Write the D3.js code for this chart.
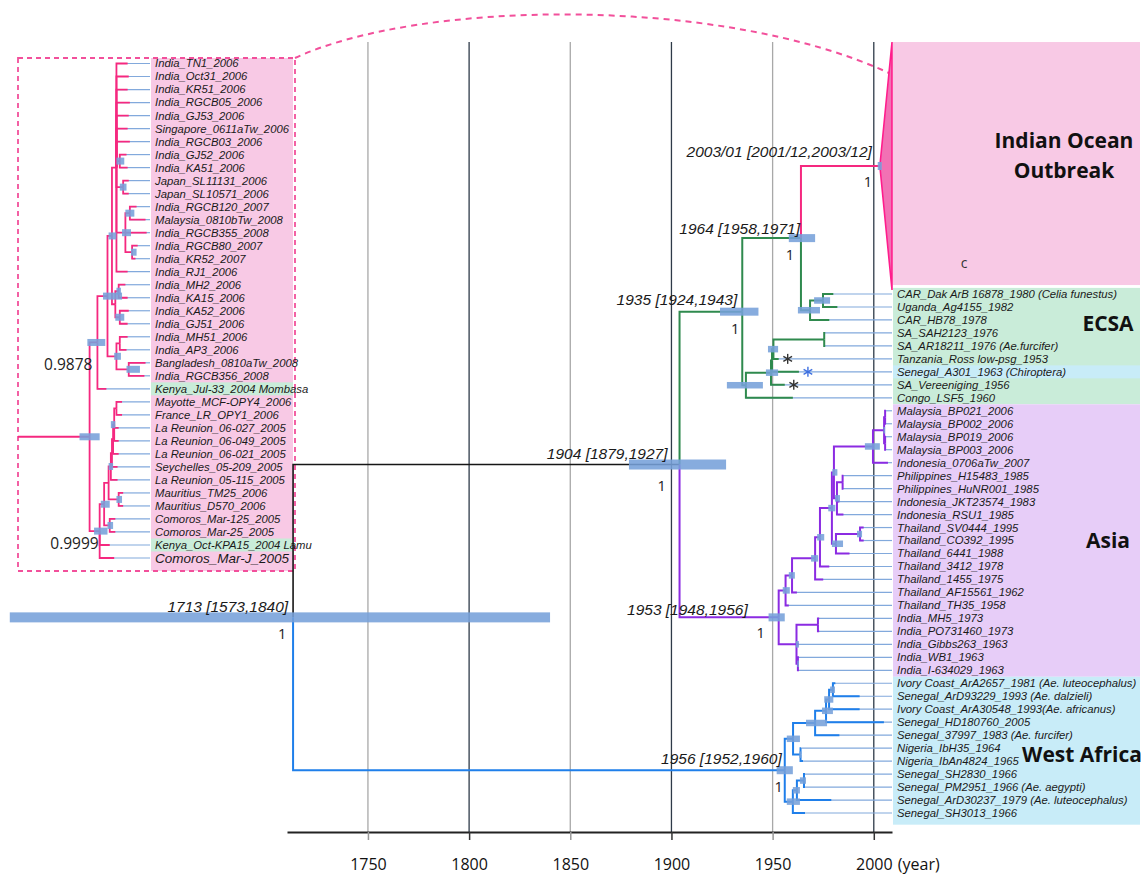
<!DOCTYPE html>
<html><head><meta charset="utf-8">
<script src="https://cdn.jsdelivr.net/npm/d3@7"></script>
<style>
body{margin:0;background:#fff;}
svg{display:block;}
</style></head><body>
<svg id="chart" width="1142" height="875"></svg>
<script>
// ================= DATA =================
const axisYears = [1750, 1800, 1850, 1900, 1950, 2000];
const axisUnit = "(year)";

// main tree internal nodes: [id, parent, year, clade]
const mainNodes = [
  ["root", null, 1713, "stem"],
  ["n1904", "root", 1904, "stem"],
  ["n1935", "n1904", 1935, "ECSA"],
  ["n1964", "n1935", 1964, "ECSA"],
  ["iol", "n1964", 2003.0, "IOL"],
  ["c1", "n1964", 1968.5, "ECSA"],
  ["c2", "c1", 1974.9, "ECSA"],
  ["e1", "n1935", 1936.8, "ECSA"],
  ["e2", "e1", 1949.2, "ECSA"],
  ["e3", "e2", 1949.7, "ECSA"],
  ["e4", "e3", 1950.4, "ECSA"],
  ["sa", "e4", 1975.5, "ECSA"],
  ["n1953", "n1904", 1953, "Asia"],
  ["at", "n1953", 1956.4, "Asia"],
  ["at2", "at", 1959.6, "Asia"],
  ["at3", "at2", 1971, "Asia"],
  ["at4", "at3", 1973.4, "Asia"],
  ["s2", "at4", 1979.3, "Asia"],
  ["s1", "s2", 1980.3, "Asia"],
  ["sea", "s1", 1999.6, "Asia"],
  ["mal", "sea", 2005.1, "Asia"],
  ["mp1", "mal", 2005.6, "Asia"],
  ["mp2", "mal", 2005.6, "Asia"],
  ["pij", "s1", 1981.8, "Asia"],
  ["pi", "pij", 1984.6, "Asia"],
  ["tg", "s2", 1981.3, "Asia"],
  ["th95", "tg", 1993.2, "Asia"],
  ["ai", "n1953", 1961.8, "Asia"],
  ["mh", "ai", 1972.4, "Asia"],
  ["ai3", "ai", 1962.5, "Asia"],
  ["n1956", "root", 1956, "WA"],
  ["w1", "n1956", 1960.1, "WA"],
  ["w3", "w1", 1971, "WA"],
  ["w4", "w3", 1976.4, "WA"],
  ["w5", "w4", 1977.9, "WA"],
  ["w6", "w5", 1979.8, "WA"],
  ["ng", "w1", 1963.8, "WA"],
  ["w2", "n1956", 1960, "WA"],
  ["w7", "w2", 1962, "WA"],
  ["w8", "w7", 1965.5, "WA"]
];

// main tree leaves, top to bottom: [label, parent, tip year, mark]
const mainLeaves = [
  ["CAR_Dak ArB 16878_1980 (Celia funestus)", "c2", 1980],
  ["Uganda_Ag4155_1982", "c2", 1982],
  ["CAR_HB78_1978", "c1", 1978],
  ["SA_SAH2123_1976", "sa", 1976],
  ["SA_AR18211_1976 (Ae.furcifer)", "sa", 1976],
  ["Tanzania_Ross low-psg_1953", "e4", 1953, "star"],
  ["Senegal_A301_1963 (Chiroptera)", "e3", 1963, "starBlue"],
  ["SA_Vereeniging_1956", "e2", 1956, "star"],
  ["Congo_LSF5_1960", "e1", 1960],
  ["Malaysia_BP021_2006", "mp1", 2006],
  ["Malaysia_BP002_2006", "mp1", 2006],
  ["Malaysia_BP019_2006", "mp2", 2006],
  ["Malaysia_BP003_2006", "mp2", 2006],
  ["Indonesia_0706aTw_2007", "sea", 2007],
  ["Philippines_H15483_1985", "pi", 1985],
  ["Philippines_HuNR001_1985", "pi", 1985],
  ["Indonesia_JKT23574_1983", "pij", 1983],
  ["Indonesia_RSU1_1985", "pij", 1985],
  ["Thailand_SV0444_1995", "th95", 1995],
  ["Thailand_CO392_1995", "th95", 1995],
  ["Thailand_6441_1988", "tg", 1988],
  ["Thailand_3412_1978", "at4", 1978],
  ["Thailand_1455_1975", "at3", 1975],
  ["Thailand_AF15561_1962", "at2", 1962],
  ["Thailand_TH35_1958", "at", 1958],
  ["India_MH5_1973", "mh", 1973],
  ["India_PO731460_1973", "mh", 1973],
  ["India_Gibbs263_1963", "ai", 1963],
  ["India_WB1_1963", "ai3", 1963],
  ["India_I-634029_1963", "ai3", 1963],
  ["Ivory Coast_ArA2657_1981 (Ae. luteocephalus)", "w6", 1981],
  ["Senegal_ArD93229_1993 (Ae. dalzieli)", "w6", 1993],
  ["Ivory Coast_ArA30548_1993(Ae. africanus)", "w5", 1993],
  ["Senegal_HD180760_2005", "w4", 2005],
  ["Senegal_37997_1983 (Ae. furcifer)", "w3", 1983],
  ["Nigeria_IbH35_1964", "ng", 1964],
  ["Nigeria_IbAn4824_1965", "ng", 1965],
  ["Senegal_SH2830_1966", "w8", 1966],
  ["Senegal_PM2951_1966 (Ae. aegypti)", "w8", 1966],
  ["Senegal_ArD30237_1979 (Ae. luteocephalus)", "w7", 1979],
  ["Senegal_SH3013_1966", "w2", 1966]
];

// collapsed Indian Ocean clade extent, in leaf-row units
const iolRows = [-19.42, -0.31];

// 95% HPD bars of node ages: [node, low, high]
const mainHPD = [
  ["root", 1573, 1840], ["n1904", 1879, 1927], ["n1935", 1924, 1943],
  ["n1964", 1958, 1971], ["iol", 2001.95, 2003.95], ["n1953", 1948, 1956],
  ["n1956", 1952, 1960], ["c1", 1962.5, 1973.4], ["c2", 1970.5, 1978.4],
  ["e1", 1927.4, 1945.2], ["e2", 1946.7, 1952.7], ["e4", 1947.7, 1952.7],
  ["at", 1955, 1958.5], ["at2", 1958, 1961], ["at3", 1969, 1972.5],
  ["at4", 1972, 1975.5], ["s2", 1977.5, 1981], ["s1", 1979.5, 1982],
  ["tg", 1979.3, 1984.8], ["th95", 1991.7, 1994.2], ["sea", 1995.6, 2003],
  ["pij", 1980.8, 1983.3], ["mal", 2004.8, 2005.6], ["ai", 1961.5, 1963],
  ["ai3", 1962.2, 1963], ["w1", 1957, 1963.5], ["w3", 1966.5, 1976.9],
  ["w4", 1974.4, 1979.8], ["w5", 1975.5, 1980], ["w6", 1978.4, 1980.8],
  ["w2", 1957, 1963.5], ["w7", 1960, 1963.5], ["w8", 1963.5, 1966.5],
  ["ng", 1963.2, 1964.2]
];

// node annotations: [node, date text, posterior]
const mainAnnot = [
  ["root", "1713 [1573,1840]", "1"],
  ["n1904", "1904 [1879,1927]", "1"],
  ["n1935", "1935 [1924,1943]", "1"],
  ["n1964", "1964 [1958,1971]", "1"],
  ["iol", "2003/01 [2001/12,2003/12]", "1"],
  ["n1953", "1953 [1948,1956]", "1"],
  ["n1956", "1956 [1952,1960]", "1"]
];

// clade groups: [key, title lines, first row, last row]
const groups = [
  ["IOL", ["Indian Ocean", "Outbreak"], -19.42, -0.69],
  ["ECSA", ["ECSA"], -0.47, 8.5],
  ["Asia", ["Asia"], 8.5, 29.5],
  ["WA", ["West Africa"], 29.5, 40.9]
];
const highlightRows = [[6, "WA"]];   // Senegal_A301 shaded as West African

// ---- inset (expanded Indian Ocean Outbreak clade) ----
const insetNodes = [
  ["iroot", null, 2003.0],
  ["A", "iroot", 2003.7], ["A2", "A", 2004.6], ["A3", "A2", 2005.0],
  ["I0", "A3", 2005.4], ["gk", "I0", 2005.7], ["jp", "I0", 2006.0],
  ["rg", "I0", 2006.2], ["rm", "rg", 2006.6], ["rk", "rg", 2006.8],
  ["MKg", "A3", 2005.3], ["mk", "MKg", 2005.6], ["kg", "MKg", 2005.7],
  ["I1", "A2", 2005.4], ["ma", "I1", 2005.7], ["bg", "I1", 2006.5],
  ["B", "iroot", 2003.9], ["B3", "B", 2004.3], ["cm", "B3", 2004.8],
  ["B4", "B3", 2004.7], ["mau", "B4", 2005.6], ["R", "B4", 2004.9],
  ["R2", "R", 2005.0], ["R3", "R2", 2005.1], ["R4", "R3", 2005.2],
  ["mf", "R4", 2005.4]
];
const insetStemYear = 1996.6;
const insetLeaves = [
  ["India_TN1_2006", "I0", 2006.4],
  ["India_Oct31_2006", "I0", 2006.5],
  ["India_KR51_2006", "I0", 2006.4],
  ["India_RGCB05_2006", "I0", 2006.6],
  ["India_GJ53_2006", "I0", 2006.5],
  ["Singapore_0611aTw_2006", "I0", 2006.4],
  ["India_RGCB03_2006", "I0", 2006.6],
  ["India_GJ52_2006", "gk", 2006.3],
  ["India_KA51_2006", "gk", 2006.4],
  ["Japan_SL11131_2006", "jp", 2006.5],
  ["Japan_SL10571_2006", "jp", 2006.5],
  ["India_RGCB120_2007", "rm", 2007.2],
  ["Malaysia_0810bTw_2008", "rm", 2008.0],
  ["India_RGCB355_2008", "rg", 2008.1],
  ["India_RGCB80_2007", "rk", 2007.3],
  ["India_KR52_2007", "rk", 2007.1],
  ["India_RJ1_2006", "I0", 2006.4],
  ["India_MH2_2006", "mk", 2006.2],
  ["India_KA15_2006", "mk", 2006.4],
  ["India_KA52_2006", "kg", 2006.5],
  ["India_GJ51_2006", "kg", 2006.4],
  ["India_MH51_2006", "ma", 2006.4],
  ["India_AP3_2006", "ma", 2006.3],
  ["Bangladesh_0810aTw_2008", "bg", 2008.0],
  ["India_RGCB356_2008", "bg", 2007.9],
  ["Kenya_Jul-33_2004  Mombasa", "A", 2004.5, "kenya"],
  ["Mayotte_MCF-OPY4_2006", "mf", 2005.9],
  ["France_LR_OPY1_2006", "mf", 2005.9],
  ["La Reunion_06-027_2005", "R4", 2005.6],
  ["La Reunion_06-049_2005", "R4", 2005.6],
  ["La Reunion_06-021_2005", "R3", 2005.6],
  ["Seychelles_05-209_2005", "R2", 2005.5],
  ["La Reunion_05-115_2005", "R", 2005.5],
  ["Mauritius_TM25_2006", "mau", 2006.0],
  ["Mauritius_D570_2006", "mau", 2006.0],
  ["Comoros_Mar-125_2005", "cm", 2005.3],
  ["Comoros_Mar-25_2005", "cm", 2005.3],
  ["Kenya_Oct-KPA15_2004  Lamu", "B", 2004.8, "kenya"],
  ["Comoros_Mar-J_2005", "B", 2005.2, "big"]
];
const insetHPD = [
  ["iroot", 2002.1, 2003.9], ["A", 2002.8, 2004.4], ["A2", 2004.2, 2005.9],
  ["A3", 2004.7, 2005.4], ["gk", 2005.4, 2006.1], ["jp", 2005.7, 2006.3],
  ["rg", 2005.9, 2006.7], ["rm", 2006.2, 2007.0], ["rk", 2006.7, 2007.2],
  ["mk", 2005.4, 2005.8], ["kg", 2005.3, 2006.1], ["I1", 2005.2, 2005.8],
  ["bg", 2006.3, 2007.5], ["B", 2003.4, 2004.6], ["B3", 2004.0, 2004.8],
  ["cm", 2004.6, 2005.1], ["R4", 2004.9, 2005.3], ["mau", 2005.4, 2005.9],
  ["R", 2004.7, 2005.1]
];
const insetAnnot = [["A", "0.9878"], ["B", "0.9999"]];

// ================= STYLE / LAYOUT =================
const cladeColor = {stem: "#161616", IOL: "#f5287f", ECSA: "#2f8a4e", Asia: "#8b2be2", WA: "#1f7fea"};
const boxColor = {IOL: "#f8c9e5", ECSA: "#c9ecd9", Asia: "#e7cdf8", WA: "#c8ecf8"};
const extColor = "#82a9dc";
const barColor = "#76a0d9";
const labelFont = "'Liberation Sans', Arial, sans-serif";
const titleFont = "'Open Sans', 'Noto Sans', sans-serif";

const annotLayout = {
  root: {lx: -5, ly: -11, sx: -11, sy: 17},
  n1904: {lx: -12, ly: -11, sx: -18, sy: 21},
  n1935: {lx: -5, ly: -12, sx: -7, sy: 17},
  n1964: {lx: -1, ly: -10, sx: -11, sy: 17},
  iol: {lx: -8, ly: -14, sx: -12, sy: 16},
  n1953: {lx: -31, ly: -8, sx: -18, sy: 16},
  n1956: {lx: -3, ly: -12, sx: -6, sy: 17}
};
const insetAnnotLayout = {A: {lx: -5, ly: 22}, B: {lx: -1, ly: 12}};
const titleLayout = {IOL: {cx: 1064, row: -10.7}, ECSA: {cx: 1108, row: 2.25}, Asia: {cx: 1108, row: 19}, WA: {cx: 1082, row: 35.5}};

const svg = d3.select("#chart");
const axisY = 832, gridTop = 42;
const boxRight = 1140;

const x = d3.scaleLinear().domain([1710, 2009]).range([287, 892]);
const yRow = d3.scaleLinear().domain([0, 40]).range([294, 813]);
const xi = d3.scaleLinear().domain([insetStemYear, 2008.4]).range([18, 150]);
const yi = d3.scaleLinear().domain([0, 38]).range([63.5, 558]);
const inset = {x0: 18, x1: 295, y0: 58, y1: 571, lab0: 151, lab1: 293};
const labelX0 = x.range()[1] + 1;

function build(nodes, leaves, ys, collapsed) {
  const rows = nodes.map(([id, parent, year, clade]) => ({id, parent, year, clade, leaf: false}))
    .concat(leaves.map(([label, parent, year, flag], i) => ({id: "L" + i, label, parent, year, flag, leaf: true, row: i})));
  const root = d3.stratify().id(d => d.id).parentId(d => d.parent)(rows);
  root.eachBefore(n => { if (!n.data.clade) n.data.clade = n.parent ? n.parent.data.clade : "IOL"; });
  root.eachAfter(n => {
    if (n.data.leaf) n.y = ys(n.data.row);
    else if (collapsed && collapsed[n.id]) { const [a, b] = collapsed[n.id]; n.y = (ys(a) + ys(b)) / 2; }
    else { const yy = n.children.map(c => c.y); n.y = (d3.min(yy) + d3.max(yy)) / 2; }
  });
  return root;
}

const mainRoot = build(mainNodes, mainLeaves, yRow, {iol: iolRows});
const insetRoot = build(insetNodes, insetLeaves, yi, null);
const mainById = new Map(mainRoot.descendants().map(n => [n.id, n]));
const insetById = new Map(insetRoot.descendants().map(n => [n.id, n]));

// ---------- group backgrounds ----------
const gBg = svg.append("g");
groups.forEach(([key, , r0, r1]) => {
  gBg.append("rect").attr("x", labelX0).attr("width", boxRight - labelX0)
    .attr("y", yRow(r0)).attr("height", yRow(r1) - yRow(r0)).attr("fill", boxColor[key]);
});
highlightRows.forEach(([r, key]) => {
  gBg.append("rect").attr("x", labelX0).attr("width", boxRight - labelX0)
    .attr("y", yRow(r - 0.5)).attr("height", yRow(r + 0.5) - yRow(r - 0.5)).attr("fill", boxColor[key]);
});

// ---------- grid lines ----------
const gGrid = svg.append("g");
axisYears.forEach(yr => {
  gGrid.append("line").attr("x1", x(yr)).attr("x2", x(yr)).attr("y1", gridTop).attr("y2", axisY)
    .attr("stroke", yr % 100 === 50 ? "#a8a8a8" : "#2e3a48").attr("stroke-width", 1.3);
});

// ---------- axis ----------
const axis = d3.axisBottom(x).tickValues(axisYears).tickFormat(d3.format("d")).tickSize(8).tickSizeOuter(0).tickPadding(19);
const gAxis = svg.append("g").attr("transform", `translate(0,${axisY})`).call(axis);
gAxis.select(".domain").attr("stroke", "#222").attr("stroke-width", 2);
gAxis.selectAll(".tick line").attr("stroke", d => d % 100 === 50 ? "#999" : "#333").attr("stroke-width", 1.5);
gAxis.selectAll(".tick text").attr("font-family", titleFont).attr("font-size", 16).attr("fill", "#111");
gAxis.append("text").attr("x", x(2000) + 24).attr("y", 27).attr("dy", "0.71em")
  .attr("font-family", titleFont).attr("font-size", 16).attr("fill", "#111").attr("text-anchor", "start").text(axisUnit);

// ---------- tree drawing ----------
function drawTree(g, root, xs, xEnd, opts) {
  root.leaves().forEach(n => {
    if (!n.data.leaf) return;
    g.append("line").attr("x1", xs(n.parent.data.year)).attr("x2", xEnd).attr("y1", n.y).attr("y2", n.y)
      .attr("stroke", extColor).attr("stroke-width", 1.2);
  });
  root.descendants().forEach(n => {
    if (!n.parent) return;
    const px = xs(n.parent.data.year);
    g.append("path").attr("d", `M${px},${n.parent.y}V${n.y}H${xs(n.data.year)}`)
      .attr("fill", "none").attr("stroke", cladeColor[n.data.clade])
      .attr("stroke-width", n.data.clade === "stem" ? 1.6 : opts.sw);
  });
}
function drawBars(g, byId, hpd, xs, hFn) {
  hpd.forEach(([id, lo, hi]) => {
    const n = byId.get(id); const h = hFn(id);
    g.append("rect").attr("x", xs(lo)).attr("width", xs(hi) - xs(lo)).attr("y", n.y - h / 2).attr("height", h)
      .attr("fill", barColor).attr("opacity", 0.88);
  });
}

// ---------- inset ----------
const gIn = svg.append("g");
gIn.append("rect").attr("x", inset.lab0).attr("y", inset.y0).attr("width", inset.lab1 - inset.lab0)
  .attr("height", inset.y1 - inset.y0).attr("fill", boxColor.IOL);
insetRoot.leaves().forEach(n => {
  if (n.data.flag === "kenya") gIn.append("rect").attr("x", inset.lab0).attr("width", inset.lab1 - inset.lab0)
    .attr("y", n.y - 6.5).attr("height", 13).attr("fill", boxColor.ECSA);
});
gIn.append("rect").attr("x", inset.x0).attr("y", inset.y0).attr("width", inset.x1 - inset.x0)
  .attr("height", inset.y1 - inset.y0).attr("fill", "none").attr("stroke", "#f2509b")
  .attr("stroke-width", 1.8).attr("stroke-dasharray", "5,4");
gIn.append("path").attr("d", `M${xi(insetStemYear)},${insetRoot.y}H${xi(insetRoot.data.year)}`)
  .attr("stroke", cladeColor.IOL).attr("stroke-width", 2).attr("fill", "none");
drawTree(gIn, insetRoot, xi, xi.range()[1], {sw: 1.8});
drawBars(gIn, insetById, insetHPD, xi, id => 7);
insetRoot.leaves().forEach(n => {
  gIn.append("text").attr("x", xi.range()[1] + 5).attr("y", n.y).attr("dy", "0.35em")
    .attr("font-family", labelFont).attr("font-style", "italic")
    .attr("font-size", n.data.flag === "big" ? 13.5 : 11.3).attr("fill", "#1a1a1a").text(n.data.label);
});
insetAnnot.forEach(([id, t]) => {
  const n = insetById.get(id), L = insetAnnotLayout[id];
  gIn.append("text").attr("x", xi(n.data.year) + L.lx).attr("y", n.y + L.ly).attr("dy", "0.35em")
    .attr("text-anchor", "end").attr("font-family", titleFont).attr("font-size", 15.5).attr("fill", "#222").text(t);
});

// ---------- dashed connector arc ----------
svg.append("path")
  .attr("d", `M${inset.x1},${inset.y0} C420,0 720,-5 ${labelX0 - 4},73`)
  .attr("fill", "none").attr("stroke", "#f2509b").attr("stroke-width", 2).attr("stroke-dasharray", "6,5");

// ---------- main tree ----------
const gTree = svg.append("g");
drawTree(gTree, mainRoot, x, x.range()[1], {sw: 2});
const iolNode = mainById.get("iol");
gTree.append("path")
  .attr("d", `M${x(iolNode.data.year)},${iolNode.y}L${x.range()[1]},${yRow(iolRows[0])}L${x.range()[1]},${yRow(iolRows[1])}Z`)
  .attr("fill", "#f271b4").attr("stroke", "#ff1d8c").attr("stroke-width", 1.6);
drawBars(gTree, mainById, mainHPD, x, id => id === "root" ? 10 : id === "n1904" ? 10 : (annotLayout[id] ? 8 : 6.5));

// stars
mainRoot.leaves().forEach(n => {
  if (!n.data.flag) return;
  const cx = x(n.data.year) + 9, cy = n.y, r = 5;
  const col = n.data.flag === "starBlue" ? "#3d6fe0" : "#333";
  const g = gTree.append("g").attr("stroke", col).attr("stroke-width", 1.4);
  [90, 30, 150].forEach(a => {
    const dx = r * Math.cos(a * Math.PI / 180), dy = r * Math.sin(a * Math.PI / 180);
    g.append("line").attr("x1", cx - dx).attr("y1", cy - dy).attr("x2", cx + dx).attr("y2", cy + dy);
  });
});

// leaf labels
mainRoot.leaves().forEach(n => {
  if (!n.data.leaf) return;
  gTree.append("text").attr("x", labelX0 + 4).attr("y", n.y).attr("dy", "0.35em")
    .attr("font-family", labelFont).attr("font-style", "italic").attr("font-size", 11.3)
    .attr("fill", "#1a1a1a").text(n.data.label);
});

// node annotations
mainAnnot.forEach(([id, t, p]) => {
  const n = mainById.get(id), L = annotLayout[id], nx = x(n.data.year);
  gTree.append("text").attr("x", nx + L.lx).attr("y", n.y + L.ly).attr("dy", "0.35em")
    .attr("text-anchor", "end").attr("font-family", labelFont).attr("font-style", "italic")
    .attr("font-size", 15.5).attr("fill", "#1a1a1a").text(t);
  gTree.append("text").attr("x", nx + L.sx).attr("y", n.y + L.sy).attr("dy", "0.35em")
    .attr("text-anchor", "middle").attr("font-family", titleFont)
    .attr("font-size", 14.5).attr("fill", "#1a1a1a").text(p);
});

// group titles
groups.forEach(([key, lines]) => {
  const L = titleLayout[key];
  const t = svg.append("text").attr("x", L.cx).attr("text-anchor", "middle")
    .attr("font-family", titleFont).attr("font-weight", "bold").attr("font-size", 21).attr("fill", "#111");
  const yc = yRow(L.row), lh = 30;
  lines.forEach((ln, i) => {
    t.append("tspan").attr("x", L.cx).attr("y", yc + (i - (lines.length - 1) / 2) * lh).attr("dy", "0.35em").text(ln);
  });
});
svg.append("text").attr("x", 964).attr("y", 263).attr("dy", "0.35em").attr("text-anchor", "middle")
  .attr("font-family", titleFont).attr("font-size", 14).attr("fill", "#333").text("c");
</script>
</body></html>
